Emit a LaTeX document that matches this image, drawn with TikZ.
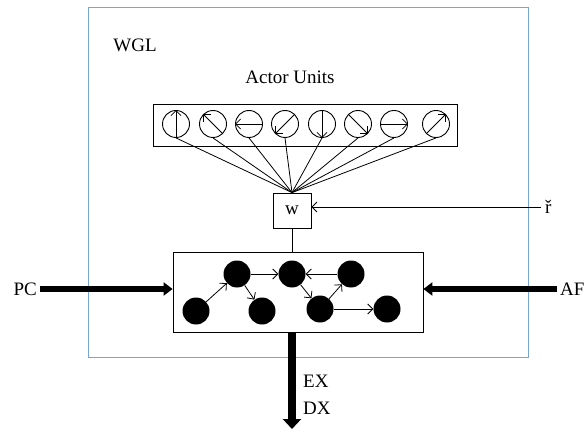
\documentclass[tikz,border=0pt]{standalone}
\usepackage{fontspec}
\setmainfont{Liberation Serif}
\usetikzlibrary{arrows.meta}
\definecolor{frameblue}{RGB}{120,165,215}
\begin{document}
\begin{tikzpicture}[x=1pt,y=-1pt,
  lbl/.style={font=\fontsize{19}{21}\selectfont, inner sep=0pt},
  unit/.style={circle, draw, minimum size=27pt, inner sep=0pt, line width=0.9pt},
  agent/.style={circle, fill=black, minimum size=27pt, inner sep=0pt},
  thin/.style={line width=0.8pt},
  bar/.style={line width=6.5pt, -{Triangle[length=9pt,width=13pt]}},
  open/.style={line width=0.8pt, -{Straight Barb[length=5pt,width=10pt]}},
  ]
\useasboundingbox (0,0) rectangle (588,430);
% outer frame
\node[draw=frameblue, line width=0.9pt, minimum width=440pt, minimum height=350pt, inner sep=0pt] (frame) at (308,182) {};
\node[lbl] (wgl) at (135,45) {WGL};
\node[lbl] (actor) at (290,77) {Actor Units};
% actor box
\node[draw, thin, minimum width=304pt, minimum height=42pt, inner sep=0pt] (abox) at (305,125) {};
\foreach \i/\x/\a in {1/176/90,2/213/135,3/249/180,4/285/225,5/322/270,6/358/315,7/394/0,8/436/45}{
  \node[unit] (u\i) at (\x,124) {};
  \draw[open] (u\i.\a+180) -- (u\i.\a);
}
% w box
\node[draw, thin, minimum width=38pt, minimum height=35pt, inner sep=0pt, lbl] (w) at (292,210.5) {w};
\foreach \i in {1,...,8}{\draw[thin] (u\i.south) -- (w.north);}
% r input
\node[lbl, anchor=west] (r) at (545,207) {ř};
\coordinate (rstart) at (541,207);
\draw[open] (rstart) -- (w.east |- rstart);
% network box
\node[draw, thin, minimum width=250pt, minimum height=80pt, inner sep=0pt] (net) at (298,292) {};
\draw[thin] (w.south) -- (net.north -| w.south);
\node[agent] (A) at (196,311) {};
\node[agent] (B) at (237,274) {};
\node[agent] (C) at (262,311) {};
\node[agent] (D) at (292,274) {};
\node[agent] (E) at (320,309) {};
\node[agent] (F) at (351,274) {};
\node[agent] (G) at (387,309) {};
\draw[open] (A) -- (B);
\draw[open] (B) -- (D);
\draw[open] (B) -- (C);
\draw[open] (D) -- (E);
\draw[open] (F) -- (D);
\draw[open] (E) -- (F);
\draw[open] (E) -- (G);
% thick arrows
\node[lbl, anchor=east] (pc) at (37,289) {PC};
\coordinate (pcstart) at (40,289);
\draw[bar] (pcstart) -- (net.west |- pcstart);
\node[lbl, anchor=west] (af) at (560,289) {AF};
\coordinate (afstart) at (557,289);
\draw[bar] (afstart) -- (net.east |- afstart);
\coordinate (down) at (292,429);
\draw[line width=8.5pt, -{Triangle[length=10pt,width=18pt]}] (net.south -| down) -- (down);
\node[lbl, anchor=west] (ex) at (303,381) {EX};
\node[lbl, anchor=west] (dx) at (303,408) {DX};
\end{tikzpicture}
\end{document}
